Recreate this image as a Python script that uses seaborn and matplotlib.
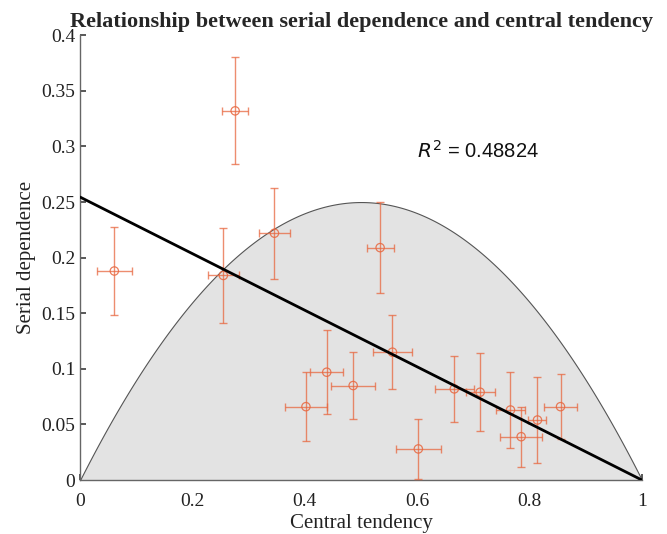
import numpy as np
import pandas as pd
import matplotlib
matplotlib.use("Agg")
import matplotlib.pyplot as plt
import seaborn as sns

# datos
central = [0.061, 0.255, 0.276, 0.346, 0.402, 0.439, 0.486, 0.534, 0.556, 0.602,
           0.666, 0.712, 0.766, 0.785, 0.814, 0.855]
serial = [0.188, 0.184, 0.332, 0.222, 0.066, 0.097, 0.085, 0.209, 0.115, 0.028,
          0.082, 0.079, 0.063, 0.039, 0.054, 0.066]
central_err = [0.031, 0.028, 0.023, 0.028, 0.037, 0.029, 0.039, 0.024, 0.034, 0.040,
               0.035, 0.026, 0.026, 0.037, 0.016, 0.030]
serial_err = [0.040, 0.043, 0.048, 0.041, 0.031, 0.038, 0.030, 0.041, 0.033, 0.027,
              0.030, 0.035, 0.034, 0.027, 0.039, 0.029]

fit_intercept = 0.2545
fit_slope = -0.2545
r2_text = "0.48824"

df = pd.DataFrame({'Central tendency': central, 'Serial dependence': serial})

sns.set_theme(style="ticks")
plt.rcParams['font.family'] = ['Liberation Serif', 'DejaVu Serif']
plt.rcParams['xtick.direction'] = 'in'
plt.rcParams['ytick.direction'] = 'in'

fig = plt.figure(figsize=(6.67, 5.34), dpi=100)
ax = fig.add_axes([0.12, 0.101, 0.8425, 0.833])

# region admisible: y = x(1-x)
xx = np.linspace(0, 1, 400)
ax.fill_between(xx, 0, xx * (1 - xx), facecolor='#e3e3e3', edgecolor='#555555', linewidth=0.8, zorder=1)

col = '#e8673f'
ax.errorbar(central, serial, xerr=central_err, yerr=serial_err, fmt='none',
            ecolor=col, elinewidth=1.0, capsize=3, alpha=0.75, zorder=3)
sns.scatterplot(x='Central tendency', y='Serial dependence', data=df, ax=ax,
                marker='o', s=36, facecolor='none', edgecolor=col, linewidth=0.9,
                alpha=0.85, zorder=4)

fit_x = np.array([0.0, 1.0])
sns.lineplot(x=fit_x, y=fit_intercept + fit_slope * fit_x, ax=ax, color='black', linewidth=2, zorder=5)

ax.text(0.6, 0.290, r'$R^2$ = ' + r2_text, fontsize=14.5, family='Liberation Sans', color='#111111')

ax.set_xlim(0, 1)
ax.set_ylim(0, 0.4)
ax.set_xticks([0, 0.2, 0.4, 0.6, 0.8, 1])
ax.set_xticklabels(['0', '0.2', '0.4', '0.6', '0.8', '1'])
ax.set_yticks(np.arange(0, 0.41, 0.05))
ax.set_yticklabels(['0', '0.05', '0.1', '0.15', '0.2', '0.25', '0.3', '0.35', '0.4'])
ax.tick_params(labelsize=14, length=4, color='#444444', labelcolor='#222222')
ax.tick_params(axis='x', pad=9)
sns.despine(ax=ax)
for s in ['left', 'bottom']:
    ax.spines[s].set_color('#666666')
    ax.spines[s].set_linewidth(1.0)

ax.set_xlabel('Central tendency', fontsize=15, labelpad=3, color='#222222')
ax.set_ylabel('Serial dependence', fontsize=15, labelpad=4, color='#222222')
ax.set_title('Relationship between serial dependence and central tendency',
             fontsize=16, fontweight='bold', pad=6)

fig.savefig('out.png', dpi=100)
